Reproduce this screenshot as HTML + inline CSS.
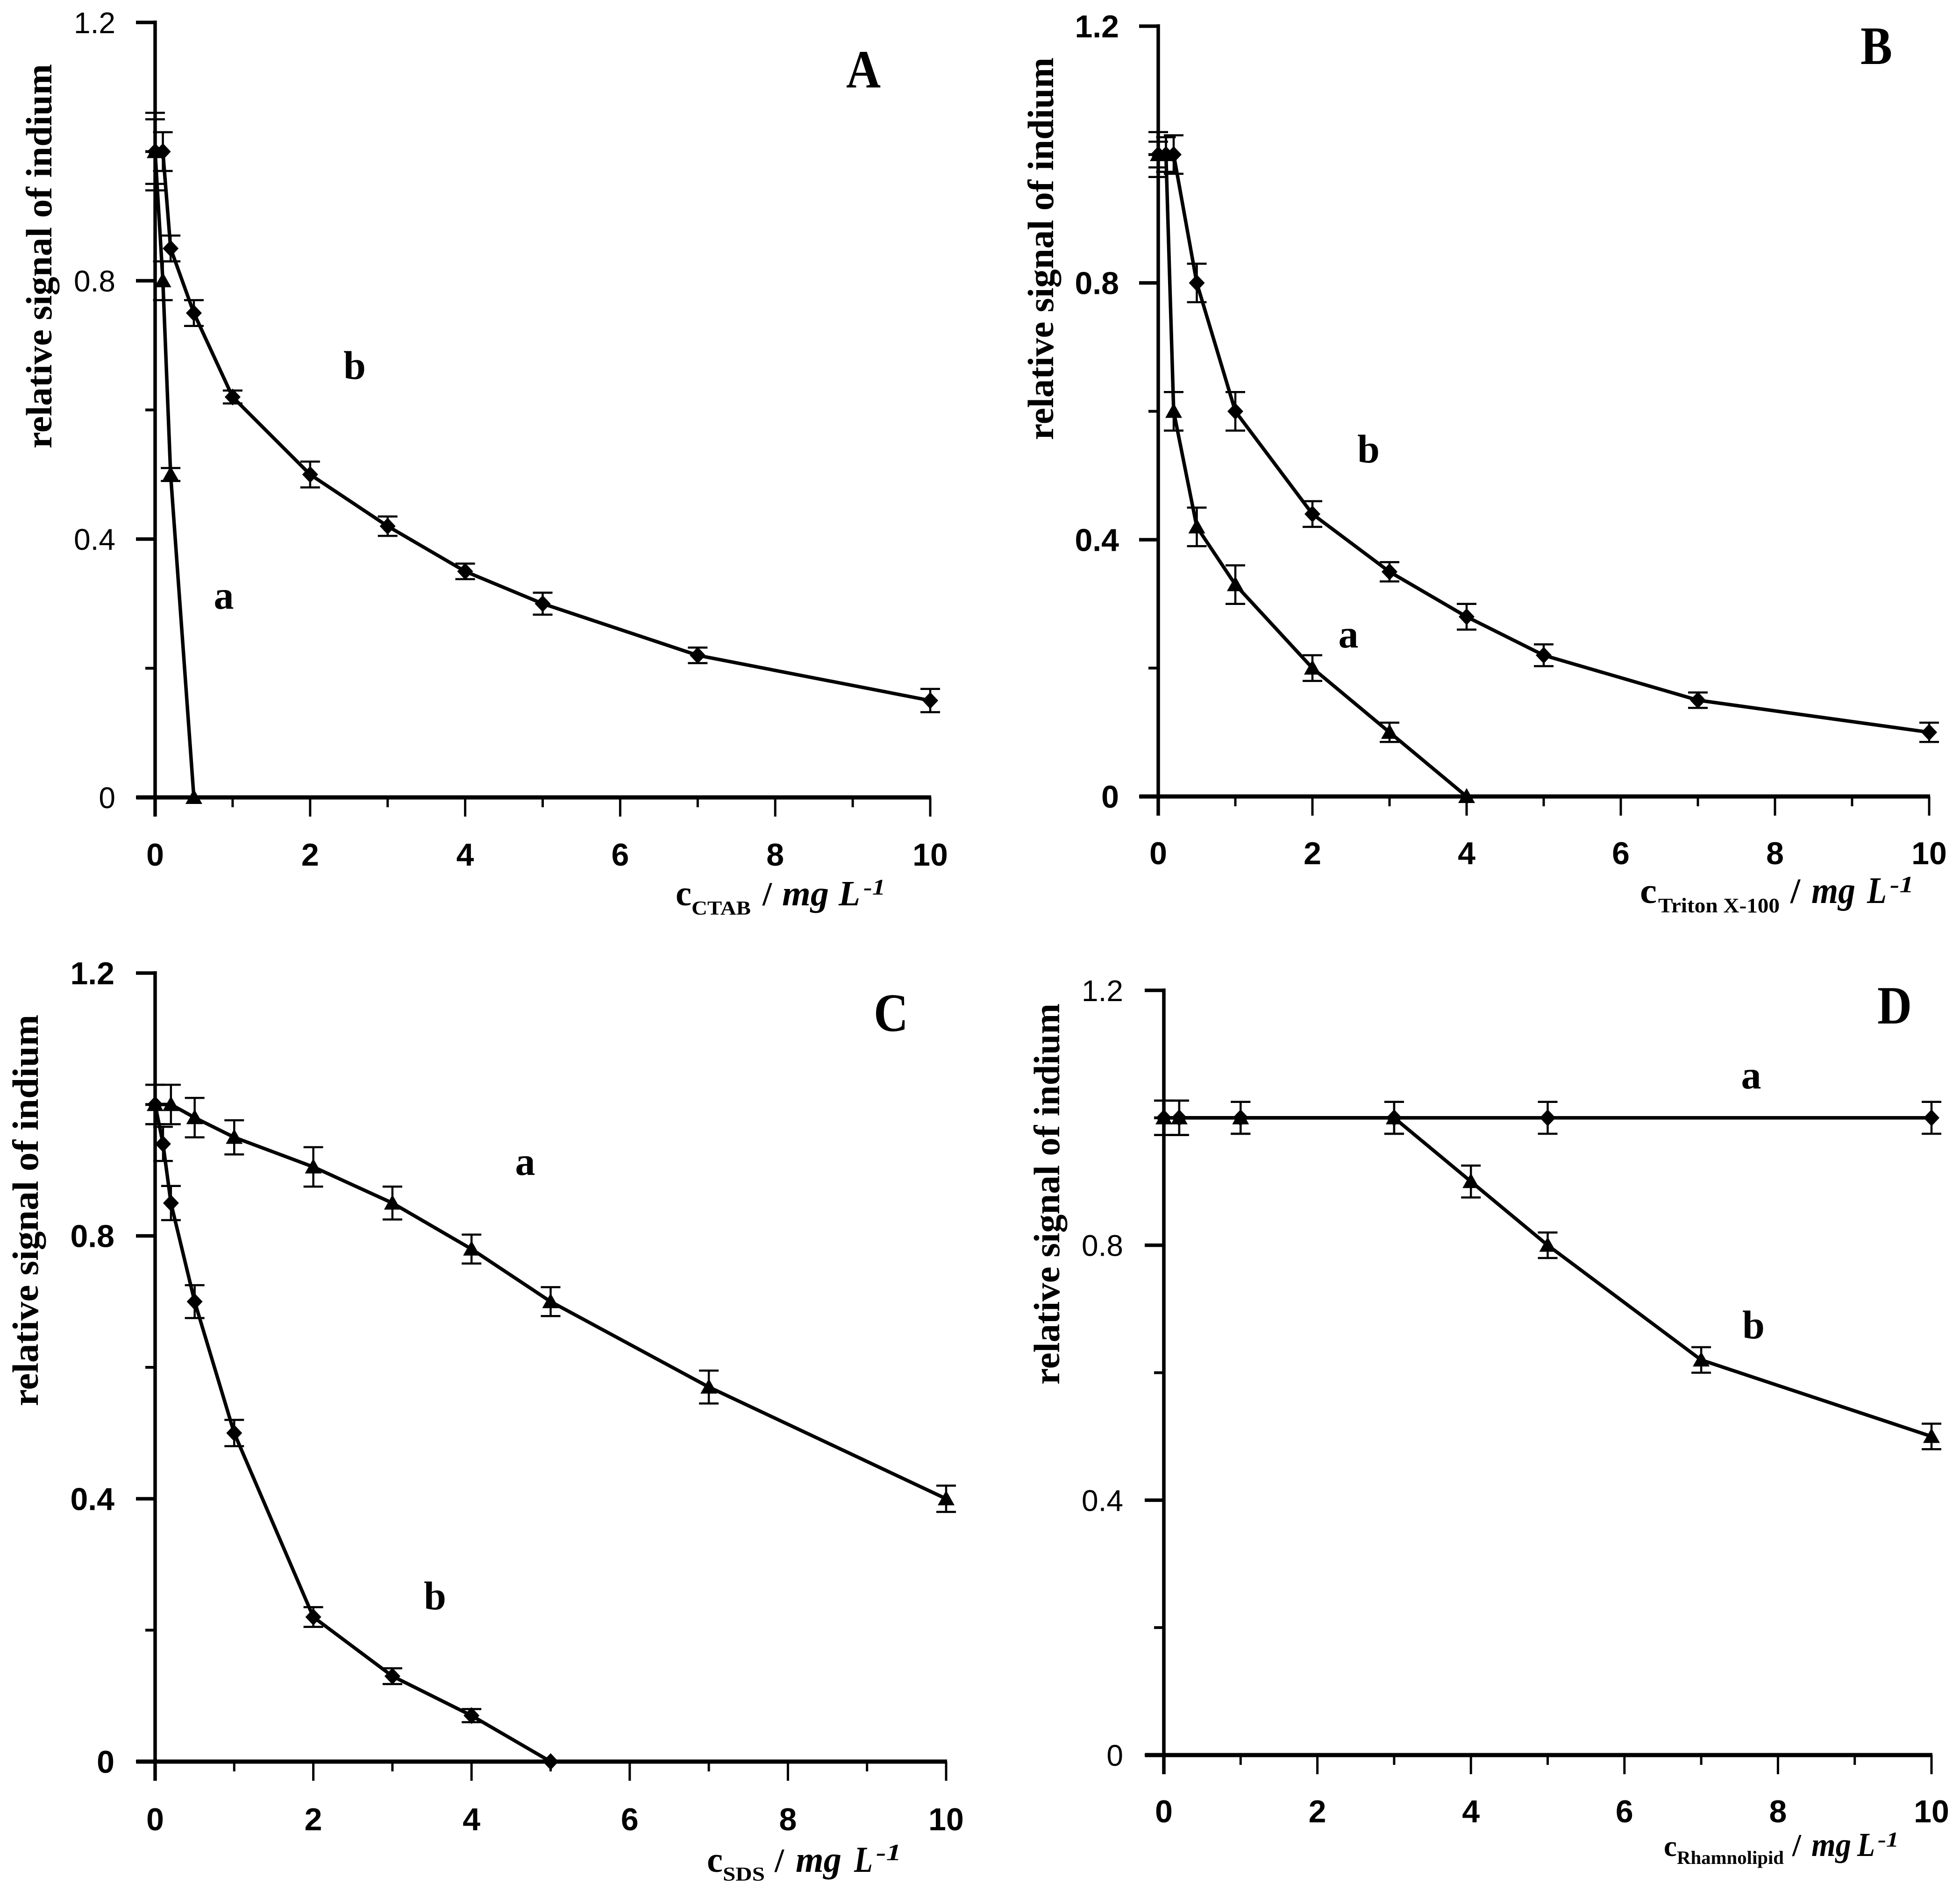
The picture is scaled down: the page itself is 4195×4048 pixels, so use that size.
<!DOCTYPE html>
<html lang="en">
<head>
<meta charset="utf-8">
<title>Relative signal of indium versus surfactant concentration</title>
<style>
html,body{margin:0;padding:0;background:#fff;}
svg{display:block;}
.serif{font-family:"Liberation Serif",serif;font-weight:bold;fill:#000;}
.ital{font-family:"Liberation Serif",serif;font-weight:bold;font-style:italic;fill:#000;}
.sans{font-family:"Liberation Sans",sans-serif;fill:#000;}
</style>
</head>
<body>
<svg id="figure" xmlns="http://www.w3.org/2000/svg" width="4195" height="4048" viewBox="0 0 4195 4048">
<rect width="4195" height="4048" fill="#fff"/>

<g id="panel-a">
  <text class="serif" x="1811" y="187" font-size="116" textLength="74" lengthAdjust="spacingAndGlyphs">A</text>
  <text class="serif" transform="translate(110,960) rotate(-90)" font-size="78" textLength="823" lengthAdjust="spacingAndGlyphs">relative signal of indium</text>
  <text class="serif" x="759" y="811" font-size="86" text-anchor="middle">b</text>
  <text class="serif" x="479" y="1303" font-size="86" text-anchor="middle">a</text>
  <g>
    <text class="serif" x="1446" y="1938" font-size="76" textLength="34" lengthAdjust="spacingAndGlyphs">c</text>
    <text class="serif" x="1480" y="1958" font-size="42" textLength="127" lengthAdjust="spacingAndGlyphs">CTAB</text>
    <text class="serif" font-weight="normal" x="1632" y="1938" font-size="72">/</text>
    <text class="ital" x="1674" y="1938" font-size="76" textLength="100" lengthAdjust="spacingAndGlyphs">mg</text>
    <text class="ital" x="1795" y="1938" font-size="76" textLength="46" lengthAdjust="spacingAndGlyphs">L</text>
    <text class="ital" x="1848" y="1915" font-size="48" textLength="47" lengthAdjust="spacingAndGlyphs">-1</text>
  </g>
</g>

<g id="panel-b">
  <text class="serif" x="3982" y="137" font-size="116" textLength="68" lengthAdjust="spacingAndGlyphs">B</text>
  <text class="serif" transform="translate(2254,942) rotate(-90)" font-size="78" textLength="819" lengthAdjust="spacingAndGlyphs">relative signal of indium</text>
  <text class="serif" x="2929" y="990" font-size="86" text-anchor="middle">b</text>
  <text class="serif" x="2886" y="1386" font-size="86" text-anchor="middle">a</text>
  <g>
    <text class="serif" x="3510" y="1933" font-size="76" textLength="36" lengthAdjust="spacingAndGlyphs">c</text>
    <text class="serif" x="3549" y="1953" font-size="44" textLength="260" lengthAdjust="spacingAndGlyphs">Triton X-100</text>
    <text class="serif" font-weight="normal" x="3832" y="1933" font-size="76">/</text>
    <text class="ital" x="3877" y="1933" font-size="80" textLength="94" lengthAdjust="spacingAndGlyphs">mg</text>
    <text class="ital" x="3996" y="1933" font-size="80" textLength="42" lengthAdjust="spacingAndGlyphs">L</text>
    <text class="ital" x="4045" y="1910" font-size="50" textLength="51" lengthAdjust="spacingAndGlyphs">-1</text>
  </g>
</g>

<g id="panel-c">
  <text class="serif" x="1870" y="2207" font-size="116" textLength="74" lengthAdjust="spacingAndGlyphs">C</text>
  <text class="serif" transform="translate(81,3010) rotate(-90)" font-size="78" textLength="838" lengthAdjust="spacingAndGlyphs">relative signal of indium</text>
  <text class="serif" x="1124" y="2515" font-size="86" text-anchor="middle">a</text>
  <text class="serif" x="931" y="3445" font-size="86" text-anchor="middle">b</text>
  <g>
    <text class="serif" x="1513" y="4007" font-size="76" textLength="34" lengthAdjust="spacingAndGlyphs">c</text>
    <text class="serif" x="1547" y="4026" font-size="42" textLength="90" lengthAdjust="spacingAndGlyphs">SDS</text>
    <text class="serif" font-weight="normal" x="1658" y="4007" font-size="72">/</text>
    <text class="ital" x="1703" y="4007" font-size="78" textLength="98" lengthAdjust="spacingAndGlyphs">mg</text>
    <text class="ital" x="1828" y="4007" font-size="78" textLength="40" lengthAdjust="spacingAndGlyphs">L</text>
    <text class="ital" x="1875" y="3982" font-size="50" textLength="54" lengthAdjust="spacingAndGlyphs">-1</text>
  </g>
</g>

<g id="panel-d">
  <text class="serif" x="4018" y="2191" font-size="116" textLength="74" lengthAdjust="spacingAndGlyphs">D</text>
  <text class="serif" transform="translate(2267,2964) rotate(-90)" font-size="78" textLength="816" lengthAdjust="spacingAndGlyphs">relative signal of indium</text>
  <text class="serif" x="3748" y="2330" font-size="86" text-anchor="middle">a</text>
  <text class="serif" x="3753" y="2865" font-size="86" text-anchor="middle">b</text>
  <g>
    <text class="serif" x="3561" y="3973" font-size="62" textLength="28" lengthAdjust="spacingAndGlyphs">c</text>
    <text class="serif" x="3589" y="3990" font-size="40" textLength="229" lengthAdjust="spacingAndGlyphs">Rhamnolipid</text>
    <text class="serif" font-weight="normal" x="3836" y="3973" font-size="68">/</text>
    <text class="ital" x="3877" y="3973" font-size="72" textLength="85" lengthAdjust="spacingAndGlyphs">mg</text>
    <text class="ital" x="3975" y="3973" font-size="72" textLength="38" lengthAdjust="spacingAndGlyphs">L</text>
    <text class="ital" x="4019" y="3953" font-size="46" textLength="45" lengthAdjust="spacingAndGlyphs">-1</text>
  </g>
</g>
</svg>

<script>
// Tick values and labels
const xMajorTicks = [0, 2, 4, 6, 8, 10];
const xMinorTicks = [1, 3, 5, 7, 9];
const yMajorTicks = [0, 0.4, 0.8, 1.2];
const yMinorTicks = [0.2, 0.6, 1.0];
const xTickLabels = ['0', '2', '4', '6', '8', '10'];
const yTickLabels = ['0', '0.4', '0.8', '1.2'];

// Panel A (CTAB)
const aTriX = [0, 0.1, 0.2, 0.5];
const aTriY = [1, 0.8, 0.5, 0];
const aTriErr = [0.06, 0.03, 0.01, 0];
const aDiaX = [0, 0.1, 0.2, 0.5, 1, 2, 3, 4, 5, 7, 10];
const aDiaY = [1, 1, 0.85, 0.75, 0.62, 0.5, 0.42, 0.35, 0.3, 0.22, 0.15];
const aDiaErr = [0.05, 0.03, 0.02, 0.02, 0.01, 0.02, 0.015, 0.012, 0.017, 0.012, 0.018];

// Panel B (Triton X-100)
const bTriX = [0, 0.1, 0.2, 0.5, 1, 2, 3, 4];
const bTriY = [1, 1, 0.6, 0.42, 0.33, 0.2, 0.1, 0];
const bTriErr = [0.035, 0.027, 0.03, 0.03, 0.03, 0.02, 0.015, 0];
const bDiaX = [0, 0.1, 0.2, 0.5, 1, 2, 3, 4, 5, 7, 10];
const bDiaY = [1, 1, 1, 0.8, 0.6, 0.44, 0.35, 0.28, 0.22, 0.15, 0.1];
const bDiaErr = [0.02, 0.027, 0.03, 0.03, 0.03, 0.02, 0.015, 0.02, 0.017, 0.012, 0.015];

// Panel C (SDS)
const cTriX = [0, 0.2, 0.5, 1, 2, 3, 4, 5, 7, 10];
const cTriY = [1, 1, 0.98, 0.95, 0.905, 0.85, 0.78, 0.7, 0.57, 0.4];
const cTriErr = [0.03, 0.03, 0.03, 0.026, 0.03, 0.025, 0.022, 0.022, 0.025, 0.02];
const cDiaX = [0, 0.1, 0.2, 0.5, 1, 2, 3, 4, 5];
const cDiaY = [1, 0.94, 0.85, 0.7, 0.5, 0.22, 0.13, 0.07, 0];
const cDiaErr = [0.03, 0.026, 0.026, 0.025, 0.02, 0.015, 0.012, 0.01, 0];

// Panel D (Rhamnolipid)
const dDiaX = [0, 0.2, 1, 3, 5, 10];
const dDiaY = [1, 1, 1, 1, 1, 1];
const dDiaErr = [0.027, 0.027, 0.025, 0.025, 0.025, 0.025];
const dTriX = [0, 0.2, 1, 3, 4, 5, 7, 10];
const dTriY = [1, 1, 1, 1, 0.9, 0.8, 0.62, 0.5];
const dTriErr = [0.027, 0.027, 0.025, 0.025, 0.025, 0.02, 0.02, 0.02];

const NS = 'http://www.w3.org/2000/svg';

function make(tag, attrs, parent) {
  const node = document.createElementNS(NS, tag);
  for (const key in attrs) node.setAttribute(key, attrs[key]);
  parent.appendChild(node);
  return node;
}

function drawAxes(p, group) {
  const sx = v => p.x0 + (v / 10) * (p.x1 - p.x0);
  const sy = v => p.y0 - (v / 1.2) * (p.y0 - p.yTop);

  const yAxis = make('line', {x1: sx(0), x2: sx(0), y1: sy(1.2) - 4, y2: p.y0 + 41, stroke: '#000', 'stroke-width': 7.5}, group);
  
  

  const xAxis = make('line', {x1: sx(0) - 40, x2: sx(10) + 2, y1: p.y0, y2: p.y0, stroke: '#000', 'stroke-width': 9}, group);
  
  

  xMajorTicks.forEach((v, i) => {
    const tick = make('line', {x1: sx(v), x2: sx(v), y1: p.y0, y2: p.y0 + 41, stroke: '#000', 'stroke-width': 5}, group);
    
    
    const label = make('text', {x: sx(v), y: p.y0 + p.xLabelDy, 'font-size': 68, 'font-weight': 'bold', 'text-anchor': 'middle', class: 'sans'}, group);
    label.textContent = xTickLabels[i];
    
    
  });
  xMinorTicks.forEach(v => {
    const tick = make('line', {x1: sx(v), x2: sx(v), y1: p.y0, y2: p.y0 + 21, stroke: '#000', 'stroke-width': 5}, group);
    
    
  });
  yMajorTicks.forEach((v, i) => {
    const tick = make('line', {x1: sx(0) - 41, x2: sx(0), y1: sy(v), y2: sy(v), stroke: '#000', 'stroke-width': 7.5}, group);
    
    
    const label = make('text', {x: sx(0) - p.yLabelDx, y: sy(v) + p.yLabelDy, 'font-size': p.yLabelSize, 'font-weight': p.yLabelWeight, 'text-anchor': 'end', class: 'sans'}, group);
    label.textContent = yTickLabels[i];
    
    
  });
  yMinorTicks.forEach(v => {
    const tick = make('line', {x1: sx(0) - 21, x2: sx(0), y1: sy(v), y2: sy(v), stroke: '#000', 'stroke-width': 6}, group);
    
    
  });
  return {sx, sy};
}

function drawSeries(xs, ys, errs, shape, scale, group) {
  const {sx, sy} = scale;
  const holder = make('g', {}, group);
  
  

  xs.forEach((x, i) => {
    if (errs[i] <= 0) return;
    const px = sx(x), top = sy(ys[i] + errs[i]), bot = sy(ys[i] - errs[i]);
    const bar = make('path', {
      d: 'M' + (px - 21) + ' ' + top + 'H' + (px + 21) + 'M' + px + ' ' + top + 'V' + bot + 'M' + (px - 21) + ' ' + bot + 'H' + (px + 21),
      fill: 'none', stroke: '#000', 'stroke-width': 4.5
    }, holder);
    
    
  });

  const linePts = xs.map((x, i) => sx(x) + ',' + sy(ys[i])).join(' ');
  const line = make('polyline', {points: linePts, fill: 'none', stroke: '#000', 'stroke-width': 7.5, 'stroke-linejoin': 'round'}, holder);
  
  

  xs.forEach((x, i) => {
    const px = sx(x), py = sy(ys[i]);
    const d = shape === 'triangle'
      ? 'M' + px + ' ' + (py - 18) + 'L' + (px + 18) + ' ' + (py + 14) + 'L' + (px - 18) + ' ' + (py + 14) + 'Z'
      : 'M' + px + ' ' + (py - 18) + 'L' + (px + 17) + ' ' + py + 'L' + px + ' ' + (py + 18) + 'L' + (px - 17) + ' ' + py + 'Z';
    const marker = make('path', {d: d, fill: '#000'}, holder);
    
    
  });
}

const scaleA = drawAxes({x0: 332, x1: 1991, y0: 1707, yTop: 48, xLabelDy: 146, yLabelDx: 85, yLabelDy: 23, yLabelSize: 64, yLabelWeight: 'normal'}, document.getElementById('panel-a'));
drawSeries(aDiaX, aDiaY, aDiaErr, 'diamond', scaleA, document.getElementById('panel-a'));
drawSeries(aTriX, aTriY, aTriErr, 'triangle', scaleA, document.getElementById('panel-a'));

const scaleB = drawAxes({x0: 2479, x1: 4129, y0: 1705, yTop: 56, xLabelDy: 145, yLabelDx: 84, yLabelDy: 24, yLabelSize: 68, yLabelWeight: 'bold'}, document.getElementById('panel-b'));
drawSeries(bDiaX, bDiaY, bDiaErr, 'diamond', scaleB, document.getElementById('panel-b'));
drawSeries(bTriX, bTriY, bTriErr, 'triangle', scaleB, document.getElementById('panel-b'));

const scaleC = drawAxes({x0: 332, x1: 2025, y0: 3771, yTop: 2083, xLabelDy: 147, yLabelDx: 87, yLabelDy: 24, yLabelSize: 68, yLabelWeight: 'bold'}, document.getElementById('panel-c'));
drawSeries(cDiaX, cDiaY, cDiaErr, 'diamond', scaleC, document.getElementById('panel-c'));
drawSeries(cTriX, cTriY, cTriErr, 'triangle', scaleC, document.getElementById('panel-c'));

const scaleD = drawAxes({x0: 2491, x1: 4134, y0: 3757, yTop: 2120, xLabelDy: 144, yLabelDx: 87, yLabelDy: 23, yLabelSize: 64, yLabelWeight: 'normal'}, document.getElementById('panel-d'));
drawSeries(dDiaX, dDiaY, dDiaErr, 'diamond', scaleD, document.getElementById('panel-d'));
drawSeries(dTriX, dTriY, dTriErr, 'triangle', scaleD, document.getElementById('panel-d'));
</script>
</body>
</html>
